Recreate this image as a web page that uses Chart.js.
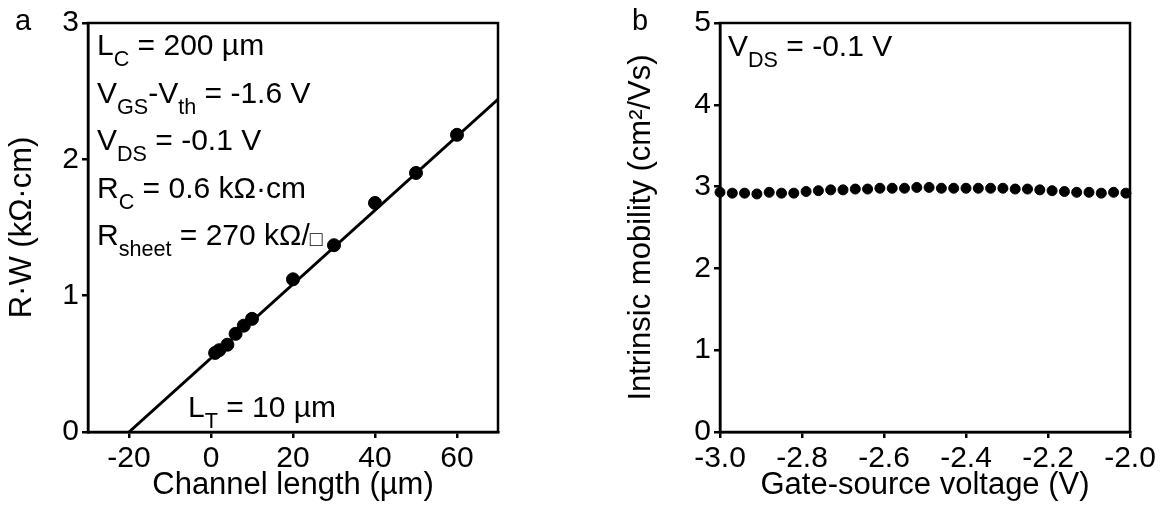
<!DOCTYPE html>
<html>
<head>
<meta charset="utf-8">
<script src="https://cdn.jsdelivr.net/npm/chart.js@4.4.0/dist/chart.umd.min.js"></script>
<style>
  body { margin: 0; background: #fff; width: 1160px; height: 509px; overflow: hidden; position: relative; }
  canvas { position: absolute; top: 0; }
  #chartA { left: 0; }
  #chartB { left: 580px; }
</style>
</head>
<body>
<canvas id="chartA" width="580" height="509"></canvas>
<canvas id="chartB" width="580" height="509"></canvas>
<script>
// panel a: R*W vs channel length (TLM)
const channelLength = [1, 2, 4, 6, 8, 10, 20, 30, 40, 50, 60];
const resistanceW = [0.58, 0.60, 0.64, 0.72, 0.78, 0.83, 1.12, 1.37, 1.68, 1.90, 2.18];
const fitLength = [-20, 70];
const fitRW = [0, 2.44];
const xTicksA = [-20, 0, 20, 40, 60];
const yTicksA = [0, 1, 2, 3];

// panel b: intrinsic mobility vs gate-source voltage
const gateVoltage = [-3.00, -2.97, -2.94, -2.91, -2.88, -2.85, -2.82, -2.79, -2.76, -2.73,
  -2.70, -2.67, -2.64, -2.61, -2.58, -2.55, -2.52, -2.49, -2.46, -2.43,
  -2.40, -2.37, -2.34, -2.31, -2.28, -2.25, -2.22, -2.19, -2.16, -2.13,
  -2.10, -2.07, -2.04, -2.01];
const mobility = [2.93, 2.92, 2.92, 2.91, 2.93, 2.92, 2.92, 2.94, 2.95, 2.96,
  2.96, 2.97, 2.97, 2.98, 2.98, 2.98, 2.99, 2.99, 2.98, 2.98,
  2.98, 2.98, 2.98, 2.98, 2.97, 2.97, 2.96, 2.95, 2.94, 2.93,
  2.93, 2.92, 2.93, 2.92];
const xTicksB = [-3.0, -2.8, -2.6, -2.4, -2.2, -2.0];
const yTicksB = [0, 1, 2, 3, 4, 5];

const FONT = '"Liberation Sans", Arial, "DejaVu Sans", sans-serif';

// texts inside the plots
const notesA = [
  [{t: 'L'}, {t: 'C', sub: 1}, {t: ' = 200 µm'}],
  [{t: 'V'}, {t: 'GS', sub: 1}, {t: '-V'}, {t: 'th', sub: 1}, {t: ' = -1.6 V'}],
  [{t: 'V'}, {t: 'DS', sub: 1}, {t: ' = -0.1 V'}],
  [{t: 'R'}, {t: 'C', sub: 1}, {t: ' = 0.6 kΩ·cm'}],
  [{t: 'R'}, {t: 'sheet', sub: 1}, {t: ' = 270 kΩ/'}, {t: '□', small: 1}]
];
const noteLT = [{t: 'L'}, {t: 'T', sub: 1}, {t: ' = 10 µm'}];
const notesB = [[{t: 'V'}, {t: 'DS', sub: 1}, {t: ' = -0.1 V'}]];

function drawRich(ctx, x, y, parts, size) {
  let cx = x;
  parts.forEach(p => {
    let s = size, dy = 0;
    if (p.sub) { s = size * 0.72; dy = size * 0.38; }
    if (p.small) { s = size * 0.7; dy = 1; }
    ctx.font = s + 'px ' + FONT;
    ctx.fillText(p.t, cx, y + dy);
    cx += ctx.measureText(p.t).width;
  });
}

// black frame around the plot area
const boxPlugin = {
  id: 'box',
  afterDatasetsDraw(chart) {
    const {ctx, chartArea: a} = chart;
    ctx.save();
    ctx.strokeStyle = '#000';
    ctx.lineWidth = 2.5;
    ctx.strokeRect(a.left, a.top, a.right - a.left, a.bottom - a.top);
    ctx.restore();
  }
};

function textPlugin(letter, letterX, lines, x0, y0, step, extra) {
  return {
    id: 'notes',
    afterDraw(chart) {
      const ctx = chart.ctx;
      ctx.save();
      ctx.fillStyle = '#000';
      ctx.textBaseline = 'alphabetic';
      ctx.textAlign = 'left';
      ctx.font = '29px ' + FONT;
      ctx.fillText(letter, letterX, 30);
      lines.forEach((l, i) => drawRich(ctx, x0, y0 + i * step, l, 30));
      if (extra) extra(ctx);
      ctx.restore();
    }
  };
}

function axisOpts(min, max, ticksList, title, fmt, size, titlePad) {
  return {
    type: 'linear',
    min: min,
    max: max,
    afterBuildTicks: s => { s.ticks = ticksList.map(v => ({value: v})); },
    ticks: {
      color: '#000',
      font: {family: FONT, size: 30},
      padding: 3,
      maxRotation: 0,
      autoSkip: false,
      callback: fmt
    },
    grid: {drawOnChartArea: false, drawTicks: true, tickLength: 6, color: '#000', lineWidth: 2.5},
    border: {display: true, color: '#000', width: 2.5},
    title: {display: true, text: title, color: '#000', font: {family: FONT, size: 31}, padding: titlePad},
    afterFit: s => { if (s.isHorizontal()) s.height = size; else s.width = size; }
  };
}

// Grafica a
const ctxA = document.getElementById('chartA').getContext('2d');
const chartA = new Chart(ctxA, {
  type: 'scatter',
  data: {
    datasets: [{
      data: channelLength.map((x, i) => ({x: x, y: resistanceW[i]})),
      backgroundColor: '#000',
      borderColor: '#000',
      pointRadius: 6.5,
      pointHoverRadius: 6.5
    }, {
      data: fitLength.map((x, i) => ({x: x, y: fitRW[i]})),
      showLine: true,
      borderColor: '#000',
      borderWidth: 3,
      pointRadius: 0
    }]
  },
  options: {
    responsive: false,
    animation: false,
    devicePixelRatio: 1,
    layout: {padding: {top: 23, right: 82, left: 0, bottom: 0}},
    plugins: {legend: {display: false}, tooltip: {enabled: false}},
    scales: {
      x: axisOpts(-30, 70, xTicksA, 'Channel length (µm)', v => v, 77, {top: 0, bottom: 5}),
      y: axisOpts(0, 3, yTicksA, 'R·W (kΩ·cm)', v => v, 88, {top: 4, bottom: 0})
    }
  },
  plugins: [boxPlugin, textPlugin('a', 15, notesA, 97, 55, 47.5, ctx => drawRich(ctx, 188, 417, noteLT, 30))]
});

// Grafica b
const ctxB = document.getElementById('chartB').getContext('2d');
const chartB = new Chart(ctxB, {
  type: 'scatter',
  data: {
    datasets: [{
      data: gateVoltage.map((x, i) => ({x: x, y: mobility[i]})),
      backgroundColor: '#000',
      borderColor: '#000',
      pointRadius: 5,
      pointHoverRadius: 5,
      clip: false
    }]
  },
  options: {
    responsive: false,
    animation: false,
    devicePixelRatio: 1,
    layout: {padding: {top: 23, right: 30, left: 0, bottom: 0}},
    plugins: {legend: {display: false}, tooltip: {enabled: false}},
    scales: {
      x: axisOpts(-3, -2, xTicksB, 'Gate-source voltage (V)', v => v.toFixed(1), 77, {top: 0, bottom: 5}),
      y: axisOpts(0, 5, yTicksB, 'Intrinsic mobility (cm²/Vs)', v => v, 140, {top: 43, bottom: 0})
    }
  },
  plugins: [boxPlugin, textPlugin('b', 52, notesB, 148, 56, 47.5, null)]
});
</script>
</body>
</html>
